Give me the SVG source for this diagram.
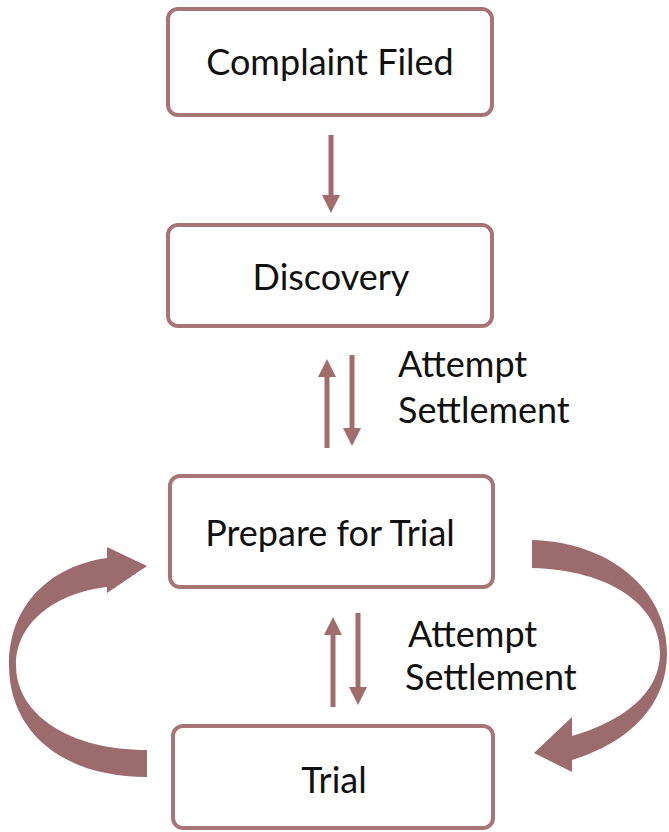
<svg xmlns="http://www.w3.org/2000/svg" width="669" height="832" viewBox="0 0 669 832">
<style>
.box{fill:#fff;stroke:#a87576;stroke-width:4}
.t{font-family:Lato,"Open Sans",sans-serif;fill:#111;text-anchor:middle;font-size:36px}
.lbl{font-family:Lato,"Open Sans",sans-serif;fill:#111;font-size:36px}
.ln{stroke:#a06c6c;stroke-width:5;fill:none}
.big{fill:#9b6b6d}
</style>
<defs>
<marker id="ah" markerUnits="userSpaceOnUse" markerWidth="20" markerHeight="20" viewBox="0 0 20 20" refX="2" refY="10" orient="auto">
<path d="M0,1 L18,10 L0,19 Z" fill="#a06c6c"/>
</marker>
</defs>
<rect width="669" height="832" fill="#fff"/>
<g id="complaint"><rect class="box" x="168" y="9" width="324" height="106" rx="10"/><text class="t" x="330" y="75">Complaint Filed</text></g>
<g id="discovery"><rect class="box" x="168" y="225" width="324" height="101" rx="10"/><text class="t" x="331" y="290">Discovery</text></g>
<g id="prepare"><rect class="box" x="170" y="476" width="323" height="111" rx="10"/><text class="t" x="330" y="546">Prepare for Trial</text></g>
<g id="trial"><rect class="box" x="173" y="726" width="320" height="102" rx="10"/><text class="t" x="334" y="793">Trial</text></g>
<g id="connectors">
<line class="ln" x1="331" y1="135" x2="331" y2="197" marker-end="url(#ah)"/>
<line class="ln" x1="327" y1="448" x2="327" y2="375" marker-end="url(#ah)"/>
<line class="ln" x1="352" y1="355" x2="352" y2="430" marker-end="url(#ah)"/>
<line class="ln" x1="333" y1="707" x2="333" y2="633" marker-end="url(#ah)"/>
<line class="ln" x1="358" y1="613" x2="358" y2="689" marker-end="url(#ah)"/>
<path class="big" d="M147,777 C60,777 9,730 9,665 C9,605 50,566 107,558 L107,547 L147,566 L107,593 L107,587 C60,592 16,620 16,665 C16,715 70,750 147,750 Z"/>
<path class="big" d="M532,540 C610,542 667,590 667,653 C667,705 630,742 572,760 L572,772 L534,753 L572,717 L572,736 C620,722 660,695 660,653 C660,605 610,570 532,568 Z"/>
</g>
<g id="labels">
<text class="lbl" x="398" y="377">Attempt</text>
<text class="lbl" x="398" y="423">Settlement</text>
<text class="lbl" x="408" y="647">Attempt</text>
<text class="lbl" x="405" y="690">Settlement</text>
</g>
</svg>
